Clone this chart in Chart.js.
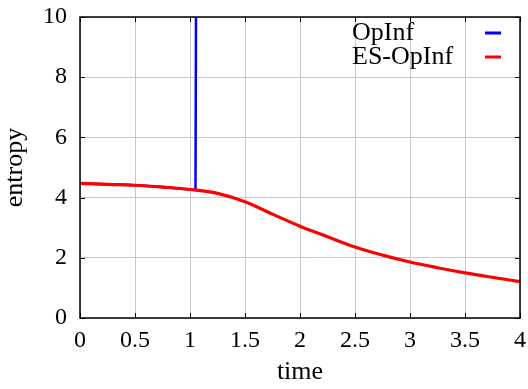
<!DOCTYPE html>
<html>
<head>
<meta charset="utf-8">
<script src="https://cdn.jsdelivr.net/npm/chart.js@4.4.0/dist/chart.umd.min.js"></script>
<style>
  html, body { margin: 0; padding: 0; background: #fff; }
  #wrap { width: 528px; height: 389px; }
</style>
</head>
<body>
<div id="wrap"><canvas id="entropyChart" width="528" height="389"></canvas></div>
<script>
// entropy over time for the two reduced models
var timeES = [0, 0.25, 0.5, 0.75, 1, 1.25, 1.5, 1.75, 2, 2.25, 2.5, 2.75, 3, 3.25, 3.5, 3.75, 4];
var entropyES = [4.47, 4.44, 4.41, 4.35, 4.27, 4.14, 3.86, 3.45, 3.05, 2.70, 2.36, 2.09, 1.86, 1.67, 1.50, 1.35, 1.21];

// OpInf blows up shortly after t = 1
var timeOp = [0, 0.25, 0.5, 0.75, 1, 1.05, 1.056];
var entropyOp = [4.47, 4.44, 4.41, 4.35, 4.27, 4.25, 12];

var xTickLabels = ['0', '0.5', '1', '1.5', '2', '2.5', '3', '3.5', '4'];
var yTickLabels = ['0', '2', '4', '6', '8', '10'];

var legendNames = ['OpInf', 'ES-OpInf'];
var lineColors = ['#0000ff', '#ff0000'];

var FONT = '"Liberation Serif", "DejaVu Serif", serif';

function toPoints(xs, ys) {
    return xs.map(function (x, i) { return { x: x, y: ys[i] }; });
}

// keep tick labels from pushing the plot area inwards
function noEdgePadding(s) {
    s.paddingTop = 0;
    s.paddingBottom = 0;
    s.paddingLeft = 0;
    s.paddingRight = 0;
}

// frame, inward ticks on all four sides, and the key in the upper right
var framePlugin = {
    id: 'frame',
    afterDatasetsDraw: function (chart) {
        var ctx = chart.ctx;
        var a = chart.chartArea;
        var xs = chart.scales.x, ys = chart.scales.y;
        var tl = 5;
        ctx.save();
        ctx.strokeStyle = '#000';
        ctx.lineWidth = 1;
        ctx.beginPath();
        xs.ticks.forEach(function (t) {
            var px = Math.round(xs.getPixelForValue(t.value)) + 0.5;
            ctx.moveTo(px, a.bottom); ctx.lineTo(px, a.bottom - tl);
            ctx.moveTo(px, a.top); ctx.lineTo(px, a.top + tl);
        });
        ys.ticks.forEach(function (t) {
            var py = Math.round(ys.getPixelForValue(t.value)) + 0.5;
            ctx.moveTo(a.left, py); ctx.lineTo(a.left + tl, py);
            ctx.moveTo(a.right, py); ctx.lineTo(a.right - tl, py);
        });
        ctx.stroke();
        ctx.lineWidth = 1.5;
        ctx.strokeRect(a.left, a.top, a.right - a.left, a.bottom - a.top);

        ctx.font = '26px ' + FONT;
        ctx.fillStyle = '#000';
        ctx.textAlign = 'left';
        ctx.textBaseline = 'middle';
        ctx.lineWidth = 3;
        for (var i = 0; i < legendNames.length; i++) {
            var y = a.top + 16 + i * 24;
            ctx.fillText(legendNames[i], a.left + 272, y);
            ctx.strokeStyle = lineColors[i];
            ctx.beginPath();
            ctx.moveTo(a.left + 405, y);
            ctx.lineTo(a.left + 421, y);
            ctx.stroke();
        }
        ctx.restore();
    }
};

new Chart(document.getElementById('entropyChart'), {
    type: 'line',
    data: {
        datasets: [{
            label: legendNames[0],
            data: toPoints(timeOp, entropyOp),
            borderColor: lineColors[0],
            borderWidth: 2.5,
            pointRadius: 0,
            tension: 0,
            order: 1
        }, {
            label: legendNames[1],
            data: toPoints(timeES, entropyES),
            borderColor: lineColors[1],
            borderWidth: 3.2,
            pointRadius: 0,
            tension: 0.4,
            order: 0
        }]
    },
    options: {
        responsive: false,
        animation: false,
        layout: { padding: { top: 17, right: 8, left: 0, bottom: 0 } },
        plugins: {
            legend: { display: false },
            tooltip: { enabled: false }
        },
        scales: {
            x: {
                type: 'linear',
                min: 0,
                max: 4,
                afterFit: function (s) { s.height = 71; noEdgePadding(s); },
                grid: { color: '#c8c8c8', lineWidth: 1, drawTicks: false },
                border: { display: false },
                ticks: {
                    stepSize: 0.5,
                    padding: 8,
                    color: '#000',
                    font: { family: FONT, size: 24 },
                    maxRotation: 0,
                    callback: function (v, i) { return xTickLabels[i]; }
                },
                title: {
                    display: true,
                    text: 'time',
                    color: '#000',
                    font: { family: FONT, size: 26 },
                    padding: { top: 0, bottom: 1 }
                }
            },
            y: {
                min: 0,
                max: 10,
                afterFit: function (s) { s.width = 80; noEdgePadding(s); },
                grid: { color: '#c8c8c8', lineWidth: 1, drawTicks: false },
                border: { display: false },
                ticks: {
                    stepSize: 2,
                    padding: 13,
                    color: '#000',
                    font: { family: FONT, size: 24 },
                    callback: function (v, i) { return yTickLabels[i]; }
                },
                title: {
                    display: true,
                    text: 'entropy',
                    color: '#000',
                    font: { family: FONT, size: 26 },
                    padding: { top: 0, bottom: 0 }
                }
            }
        }
    },
    plugins: [framePlugin]
});
</script>
</body>
</html>
